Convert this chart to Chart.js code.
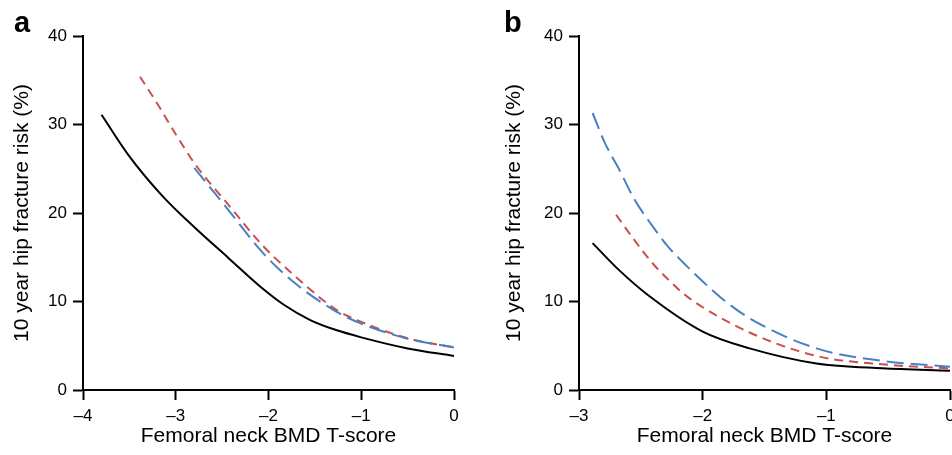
<!DOCTYPE html>
<html>
<head>
<meta charset="utf-8">
<script src="https://cdn.jsdelivr.net/npm/chart.js@4"></script>
<style>
    body { margin: 0; background: #fff; }
    .painel { position: absolute; top: 0; width: 476px; height: 455px; }
    .letra { position: absolute; top: 8px; font: bold 29px "Liberation Sans", Arial, sans-serif; line-height: 29px; color: #000; }
</style>
</head>
<body>
<div class="painel" style="left:0"><canvas id="graficoA" width="476" height="455"></canvas></div>
<div class="painel" style="left:476px"><canvas id="graficoB" width="476" height="455"></canvas></div>
<div class="letra" style="left:14px">a</div>
<div class="letra" style="left:504px">b</div>
<script>
/* DADOS */

// painel a
const aPretoX = [-3.8, -3.51, -3.15, -2.79, -2.43, -2.09, -1.83, -1.55, -1.28, -1.0, -0.5, 0];
const aPretoY = [31.1, 26.55, 22.0, 18.3, 14.9, 11.7, 9.6, 7.9, 6.8, 5.95, 4.7, 3.85];
const aVermelhoX = [-3.385, -3.19, -3.0, -2.79, -2.43, -2.07, -1.75, -1.26, -1.0, -0.5, 0];
const aVermelhoY = [35.4, 32.2, 28.9, 25.5, 20.9, 16.4, 13.2, 9.0, 7.7, 5.85, 4.8];
const aAzulX = [-2.8, -2.43, -2.07, -1.73, -1.26, -1.0, -0.5, 0];
const aAzulY = [25.1, 20.3, 15.6, 12.2, 8.8, 7.5, 5.8, 4.8];

// painel b
const bPretoX = [-2.89, -2.68, -2.44, -2.0, -1.62, -1.08, -0.55, 0];
const bPretoY = [16.6, 13.6, 10.7, 6.6, 4.7, 3.0, 2.45, 2.18];
const bVermelhoX = [-2.7, -2.55, -2.41, -2.28, -2.12, -1.62, -1.08, -0.55, 0];
const bVermelhoY = [19.8, 16.9, 14.4, 12.5, 10.5, 6.5, 3.85, 2.9, 2.45];
const bAzulX = [-2.89, -2.79, -2.68, -2.55, -2.41, -2.28, -2.15, -2.01, -1.85, -1.62, -1.08, -0.55, 0];
const bAzulY = [31.3, 27.9, 25.05, 21.5, 18.6, 16.2, 14.3, 12.4, 10.4, 8.1, 4.7, 3.3, 2.64];

const ticksY = [0, 10, 20, 30, 40];
const tituloX = 'Femoral neck BMD T-score';
const tituloY = '10 year hip fracture risk (%)';

/* FUNCOES */

const fonte = '"Liberation Sans", Arial, sans-serif';

function pontos(xs, ys) {
    return xs.map((x, i) => ({ x: x, y: ys[i] }));
}

function serie(xs, ys, cor, tracejado) {
    return {
        data: pontos(xs, ys),
        borderColor: cor,
        borderWidth: 2,
        borderDash: tracejado,
        pointRadius: 0,
        showLine: true,
        fill: false,
        cubicInterpolationMode: 'monotone'
    };
}

function rotulo(v) {
    return v < 0 ? '\u2013' + Math.abs(v) : String(v);
}

function criarGrafico(canvas, series, xMin, larguraY, direita, padTituloY) {
    return new Chart(canvas, {
        type: 'scatter',
        data: { datasets: series },
        options: {
            responsive: false,
            animation: false,
            devicePixelRatio: 1,
            layout: { padding: { left: 0, top: 36, right: direita, bottom: 0 } },
            plugins: { legend: { display: false }, tooltip: { enabled: false } },
            scales: {
                x: {
                    type: 'linear',
                    min: xMin,
                    max: 0,
                    afterFit: s => { s.height = 65; s.paddingLeft = 0; s.paddingRight = 0; },
                    ticks: { stepSize: 1, padding: 6, color: '#000', font: { family: fonte, size: 17 }, callback: rotulo },
                    grid: { drawOnChartArea: false, tickLength: 10, tickWidth: 2, tickColor: '#000' },
                    border: { color: '#000', width: 2 },
                    title: { display: true, text: tituloX, color: '#000', font: { family: fonte, size: 21 }, padding: { top: 0, bottom: 6 } }
                },
                y: {
                    min: 0,
                    max: 40,
                    afterFit: s => { s.width = larguraY; s.paddingTop = 0; s.paddingBottom = 0; },
                    afterBuildTicks: s => { s.ticks = ticksY.map(v => ({ value: v })); },
                    ticks: { padding: 6, color: '#000', font: { family: fonte, size: 17 }, callback: rotulo },
                    grid: { drawOnChartArea: false, tickLength: 10, tickWidth: 2, tickColor: '#000' },
                    border: { color: '#000', width: 2 },
                    title: { display: true, text: tituloY, color: '#000', font: { family: fonte, size: 21 }, padding: { top: padTituloY, bottom: 0 } }
                }
            }
        }
    });
}

const vermelho = '#c9504e';
const azul = '#4a80c3';

/* PAINEL A */

criarGrafico(document.querySelector('#graficoA'), [
    serie(aPretoX, aPretoY, '#000', []),
    serie(aAzulX, aAzulY, azul, [17, 7]),
    serie(aVermelhoX, aVermelhoY, vermelho, [9, 6])
], -4, 83, 22, 10);

/* PAINEL B */

criarGrafico(document.querySelector('#graficoB'), [
    serie(bPretoX, bPretoY, '#000', []),
    serie(bAzulX, bAzulY, azul, [17, 7]),
    serie(bVermelhoX, bVermelhoY, vermelho, [9, 6])
], -3, 103, 2, 26);
</script>
</body>
</html>
